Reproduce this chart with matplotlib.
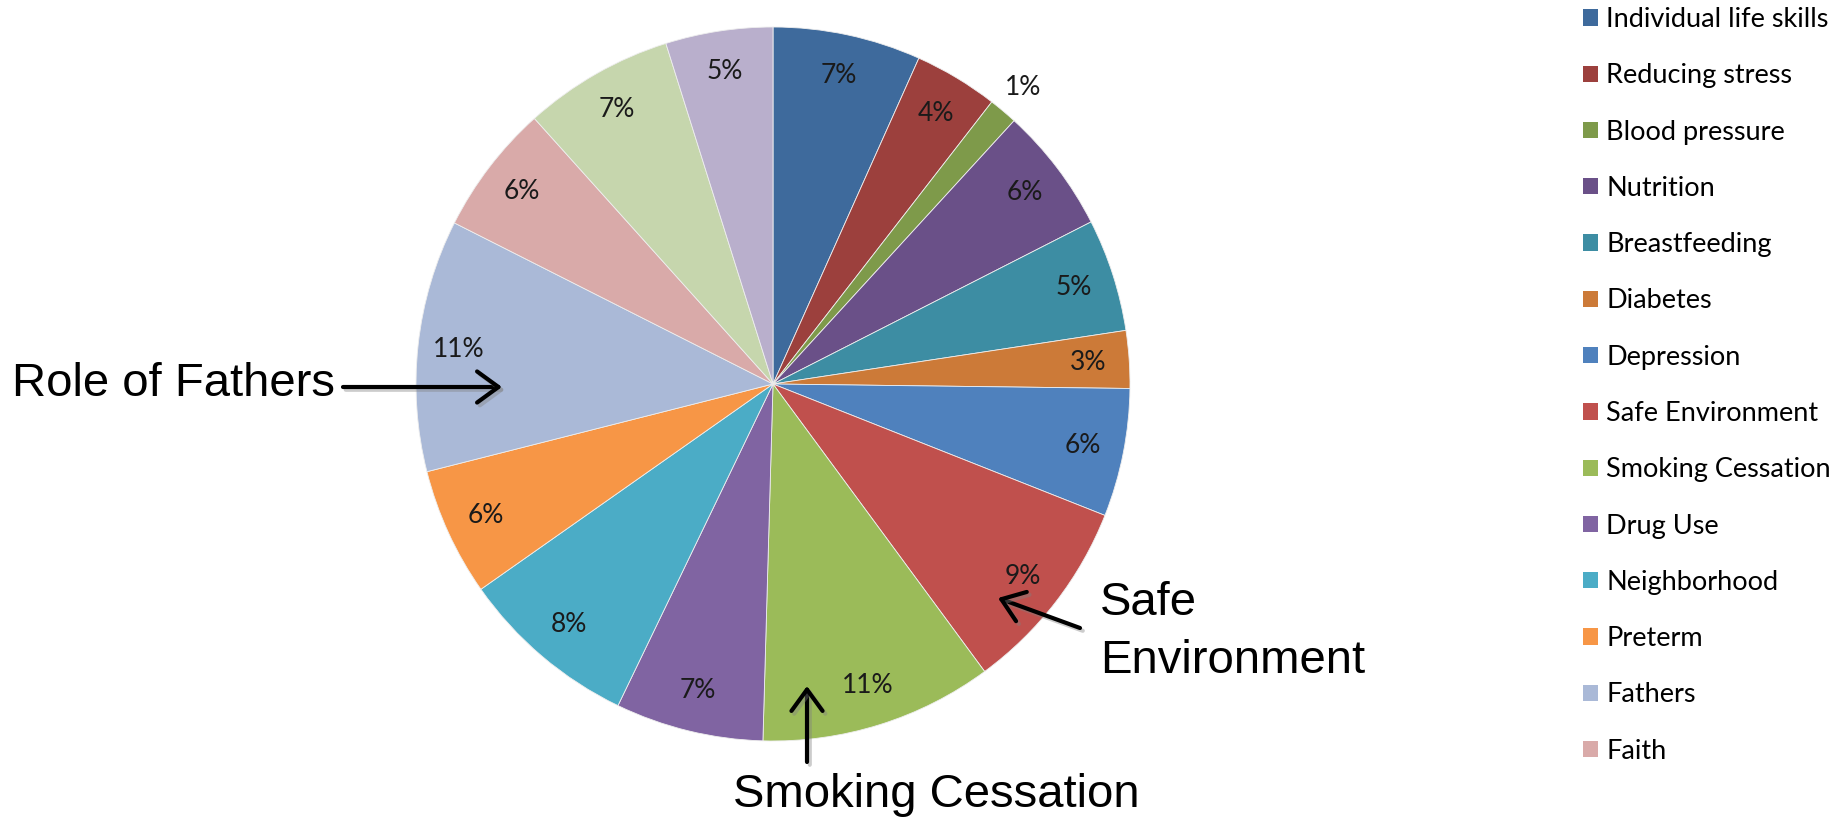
import matplotlib
matplotlib.use('Agg')
import matplotlib.pyplot as plt
import matplotlib.patches as mpatches
import matplotlib.patheffects as pe
import numpy as np

# --- data (clockwise from 12 o'clock) ---
legend_names = ['Individual life skills', 'Reducing stress', 'Blood pressure', 'Nutrition',
                'Breastfeeding', 'Diabetes', 'Depression', 'Safe Environment',
                'Smoking Cessation', 'Drug Use', 'Neighborhood', 'Preterm', 'Fathers', 'Faith']
shares = [6.7, 3.8, 1.3, 5.7, 5.1, 2.6, 5.8, 8.9, 10.55, 6.7, 8.1, 5.8, 11.4, 5.9, 6.8, 4.85]
colors = ['#3E6A9C', '#9C403D', '#7E9A4A', '#6A5088', '#3D8DA3', '#CC7A38',
          '#4F81BD', '#C0504D', '#9BBB59', '#8064A2', '#4BACC6', '#F79646',
          '#AAB9D7', '#D9AAA9', '#C6D6AD', '#B9AFCC']

W, H = 1847, 817
fig = plt.figure(figsize=(W / 100, H / 100), dpi=100, facecolor='white')
ax = fig.add_axes([0, 0, 1, 1])

cx, cy, R = 773, H - 384, 357
wedges, texts, pcts = ax.pie(shares, colors=colors, startangle=90, counterclock=False,
                             center=(cx, cy), radius=R, autopct='%1.0f%%', pctdistance=0.885,
                             wedgeprops=dict(edgecolor='#eeeeee', linewidth=0.6),
                             textprops=dict(family='Lato', fontsize=19, color='#1a1a1a'))

# the thin slice gets its label outside
for w, t in zip(wedges, pcts):
    if abs(w.theta2 - w.theta1) < 6:
        mid = np.deg2rad((w.theta1 + w.theta2) / 2)
        t.set_position((cx + 1.085 * R * np.cos(mid), cy + 1.085 * R * np.sin(mid)))

ax.set_xlim(0, W)
ax.set_ylim(0, H)
ax.set_aspect('auto')
ax.axis('off')

# legend (only the first 14 entries are visible in the original)
handles = [mpatches.Patch(facecolor=c, edgecolor='none') for c in colors[:14]]
fig.legend(handles, legend_names, loc='upper left', bbox_to_anchor=(1583 / W, 1 - 7 / H),
           frameon=False, borderpad=0, borderaxespad=0, handlelength=0.55, handleheight=0.55,
           handletextpad=0.3, labelspacing=1.155,
           prop=dict(family='Lato', size=19.5))

# callouts
shadow = [pe.SimpleLineShadow(offset=(2, -2), shadow_color='gray', alpha=0.4), pe.Normal()]
arrow = dict(arrowstyle='->,head_length=0.55,head_width=0.4', lw=3, color='black',
             mutation_scale=28, shrinkA=0, shrinkB=0, path_effects=shadow)
big = dict(family='Liberation Sans', fontsize=34, color='black')

ax.text(12, H - 396, 'Role of Fathers', ha='left', va='baseline', **big)
ax.annotate('', xy=(502, H - 387), xytext=(343, H - 387), arrowprops=arrow)

ax.text(733, H - 807, 'Smoking Cessation', ha='left', va='baseline', **big)
ax.annotate('', xy=(807, H - 686), xytext=(807, H - 762), arrowprops=arrow)

ax.text(1100, H - 615, 'Safe', ha='left', va='baseline', **big)
ax.text(1100, H - 673, 'Environment', ha='left', va='baseline', **big)
ax.annotate('', xy=(998, H - 598), xytext=(1080, H - 628), arrowprops=arrow)

fig.savefig('out.png', dpi=100, facecolor='white')
